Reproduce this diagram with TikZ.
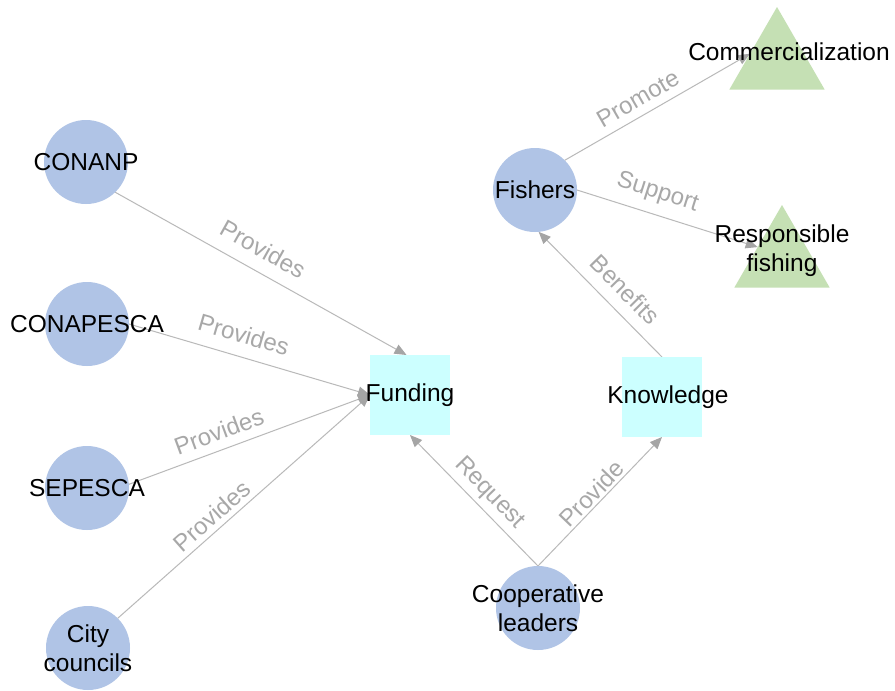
\documentclass[tikz,border=0pt]{standalone}
\usepackage{fontspec}
\setmainfont{Liberation Sans}
\usetikzlibrary{arrows.meta,shapes.geometric,backgrounds}
\definecolor{circblue}{RGB}{176,196,230}
\definecolor{sqcyan}{RGB}{204,255,255}
\definecolor{trigreen}{RGB}{197,224,180}
\definecolor{edgegray}{RGB}{185,185,185}
\definecolor{labgray}{RGB}{168,168,168}
\definecolor{tipgray}{RGB}{165,165,165}
\begin{document}
\begin{tikzpicture}[x=1pt,y=-1pt,
  every label/.style={font=\fontsize{24.5}{29}\selectfont, text=black, align=center, inner sep=0pt},
  actor/.style={circle, fill=circblue, minimum size=84pt, inner sep=0pt, outer sep=0pt},
  resource/.style={rectangle, fill=sqcyan, minimum size=80pt, inner sep=0pt, outer sep=0pt},
  goal/.style={regular polygon, regular polygon sides=3, fill=trigreen, minimum size=110pt, inner sep=0pt, outer sep=0pt},
  link/.style={draw=edgegray, line width=1pt, -{Triangle[length=12pt,width=10pt,color=tipgray]}},
  lab/.style={font=\fontsize{24}{28}\selectfont, text=labgray, sloped, inner sep=0pt}
]
\useasboundingbox (0,0) rectangle (895,691);

\node[actor, label={center:CONANP}] (conanp) at (86,162) {};
\node[actor, label={center:CONAPESCA}] (conapesca) at (87,324) {};
\node[actor, label={center:SEPESCA}] (sepesca) at (87,488) {};
\node[actor, label={center:City\\councils}] (city) at (88,648) {};
\node[actor, label={center:Cooperative\\leaders}] (coop) at (538,608) {};
\node[actor, label={center:Fishers}] (fishers) at (535,190) {};
\node[resource, label={center:Funding}] (fund) at (410,395) {};
\node[resource, label={[xshift=6pt]center:Knowledge}] (know) at (662,397) {};
\node[goal, label={[xshift=12pt,yshift=10pt]center:Commercialization}] (comm) at (777,62) {};
\node[goal, label={[yshift=9pt]center:Responsible\\fishing}] (resp) at (782,260) {};

\begin{pgfonlayer}{background}
\fill[white] (0,0) rectangle (895,691);
\draw[link] (conanp.-46) -- node[lab, pos=0.47, above=13pt] {Provides} (fund.95);
\draw[link] (conapesca.east) -- node[lab, pos=0.45, above=13pt] {Provides} (fund.west);
\draw[link] (sepesca.5) -- node[lab, pos=0.40, above=9pt] {Provides} (fund.west);
\draw[link] (city.45) -- node[lab, pos=0.41, above=5pt] {Provides} (fund.west);
\draw[link] (coop.north) -- node[lab, pos=0.47, above=5pt] {Request} (fund.south);
\draw[link] (coop.north) -- node[lab, pos=0.5, above=2pt] {Provide} (know.south);
\draw[link] (know.north) -- node[lab, pos=0.42, above=12pt] {Benefits} (fishers.-85);
\draw[link] (fishers.45) -- node[lab, pos=0.44, above=8pt] {Promote} (comm.163);
\draw[link] (fishers.east) -- node[lab, pos=0.41, above=10pt] {Support} (resp.152);
\end{pgfonlayer}
\end{tikzpicture}
\end{document}
